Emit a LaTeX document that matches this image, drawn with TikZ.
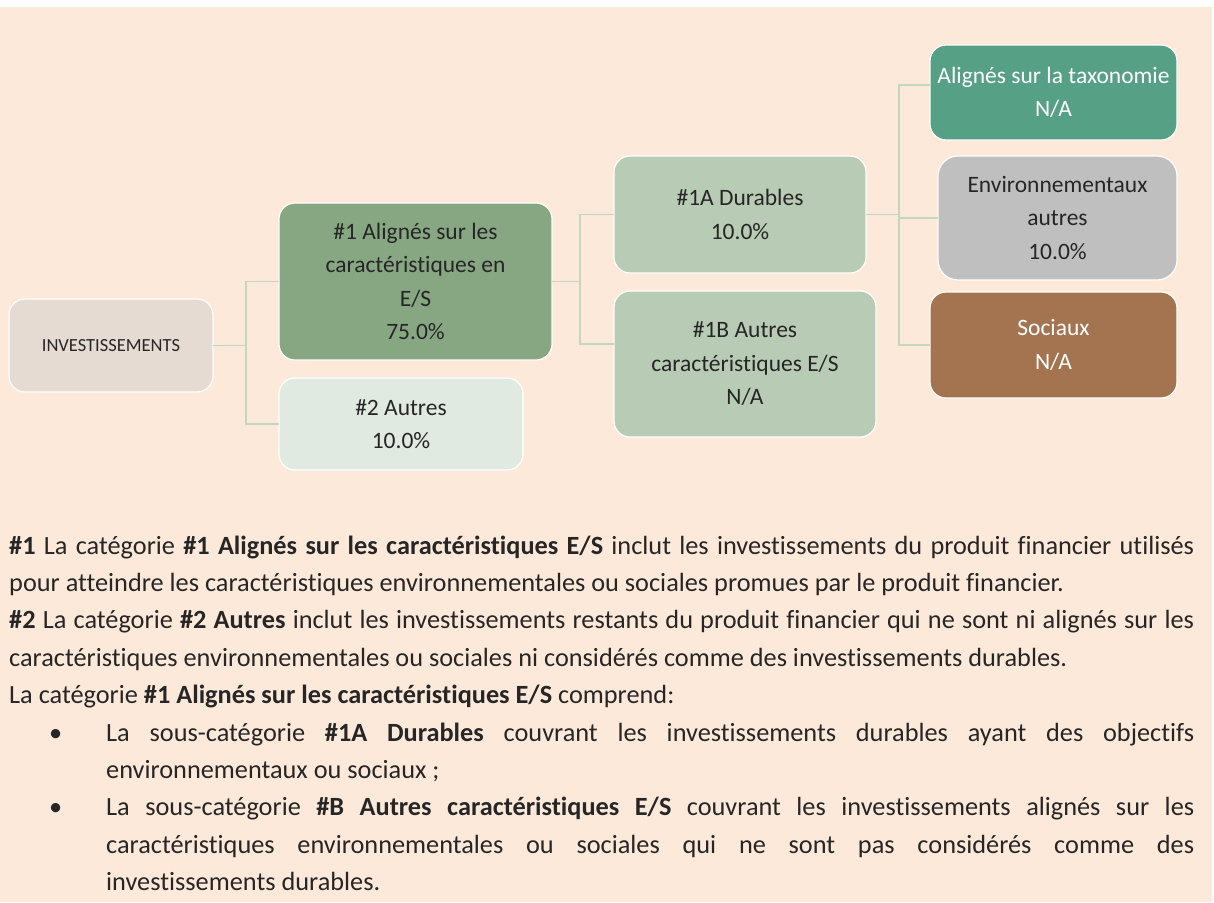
\documentclass[tikz,border=0pt]{standalone}
\usepackage{fontspec}
\setmainfont{Carlito}[Ligatures=CommonOff]

\begin{document}
\begin{tikzpicture}[x=1pt,y=-1pt,font=\fontsize{23.5}{33.5}\selectfont]

		\definecolor{PeachBack}{RGB}{253,233,217}
		\definecolor{InvBeige}{RGB}{229,219,210}
		\definecolor{CatGreen}{RGB}{135,167,131}
		\definecolor{OtherGreen}{RGB}{224,234,224}
		\definecolor{SubGreen}{RGB}{184,203,180}
		\definecolor{TaxoGreen}{RGB}{86,160,134}
		\definecolor{EnvGray}{RGB}{191,191,191}
		\definecolor{SocBrown}{RGB}{164,115,79}
		\definecolor{LinkGreen}{RGB}{196,214,192}
		\definecolor{InkGray}{RGB}{38,38,38}

		\tikzset{
			esgBox/.style={
				draw=white,
				line width=1.2pt,
				rounded corners=16pt,
				inner sep=0pt,
				outer sep=0pt,
				align=center,
				text=InkGray,
			},
			invBox/.style={esgBox, fill=InvBeige, minimum width=204pt, minimum height=93pt,
				font=\fontsize{18.5}{22}\selectfont},
			catBox/.style={esgBox, fill=CatGreen},
			otherBox/.style={esgBox, fill=OtherGreen},
			subBox/.style={esgBox, fill=SubGreen},
			taxoBox/.style={esgBox, fill=TaxoGreen, text=white},
			envBox/.style={esgBox, fill=EnvGray, rounded corners=20pt},
			socBox/.style={esgBox, fill=SocBrown, text=white},
			link/.style={draw=LinkGreen, line width=1.2pt},
		}

		% Page
		\useasboundingbox (0,0) rectangle (1214,902);
		\fill[white] (0,0) rectangle (1214,902);
		\fill[PeachBack] (0,7) rectangle (1212,902);

		% Root
		\node[invBox] (inv) at (111,345.5) {INVESTISSEMENTS};

		% Level 1
		\node[catBox, minimum width=273pt, minimum height=157pt] (cat1) at (415.5,281.5)
			{\#1 Alignés sur les\\caractéristiques en\\E/S\\75.0\%};
		\node[otherBox, minimum width=244pt, minimum height=92pt] (cat2) at (401,424)
			{\#2 Autres\\10.0\%};

		% Level 2
		\node[subBox, minimum width=252pt, minimum height=117pt] (sub1A) at (740,214.5)
			{\#1A Durables\\10.0\%};
		\node[subBox, minimum width=262pt, minimum height=146pt] (sub1B) at (745,364)
			{\#1B Autres\\caractéristiques E/S\\N/A};

		% Level 3
		\node[taxoBox, minimum width=247pt, minimum height=95pt] (taxo) at (1053.5,92.5)
			{Alignés sur la taxonomie\\N/A};
		\node[envBox, minimum width=239pt, minimum height=124pt] (env) at (1057.5,218)
			{Environnementaux\\autres\\10.0\%};
		\node[socBox, minimum width=247pt, minimum height=106pt] (soc) at (1053.5,345)
			{Sociaux\\N/A};

		% Connectors
		\draw[link] (inv.east) -- ++(33,0) |- (cat1.west);
		\draw[link] (inv.east) -- ++(33,0) |- (cat2.west);
		\draw[link] (cat1.east) -- ++(28,0) |- (sub1A.west);
		\draw[link] (cat1.east) -- ++(28,0) |- ([yshift=20pt]sub1B.west);
		\draw[link] (sub1A.east) -- ++(33,0) |- ([yshift=7.5pt]taxo.west);
		\draw[link] (sub1A.east) -- ++(33,0) |- (env.west);
		\draw[link] (sub1A.east) -- ++(33,0) |- (soc.west);

		% Notes
		\node[anchor=base west, text width=1185pt, align=justify, inner sep=0pt, text=InkGray,
			font=\fontsize{26.3}{37.4}\selectfont] (notes) at (9,554) {%
			\textbf{\#1} La catégorie \textbf{\#1 Alignés sur les caractéristiques E/S} inclut les investissements du produit financier utilisés\linebreak
			pour atteindre les caractéristiques environnementales ou sociales promues par le produit financier.\par
			\textbf{\#2} La catégorie \textbf{\#2 Autres} inclut les investissements restants du produit financier qui ne sont ni alignés sur les\linebreak
			caractéristiques environnementales ou sociales ni considérés comme des investissements durables.\par
			La catégorie \textbf{\#1 Alignés sur les caractéristiques E/S} comprend:\par
			\noindent\hangindent=97pt\makebox[97pt][l]{\hspace{40pt}\textbullet}La sous-catégorie \textbf{\#1A Durables} couvrant les investissements durables ayant des objectifs\linebreak
			environnementaux ou sociaux ;\par
			\noindent\hangindent=97pt\makebox[97pt][l]{\hspace{40pt}\textbullet}La sous-catégorie \textbf{\#B Autres caractéristiques E/S} couvrant les investissements alignés sur les\linebreak
			caractéristiques environnementales ou sociales qui ne sont pas considérés comme des\linebreak
			investissements durables.\par
		};

	\end{tikzpicture}
\end{document}
